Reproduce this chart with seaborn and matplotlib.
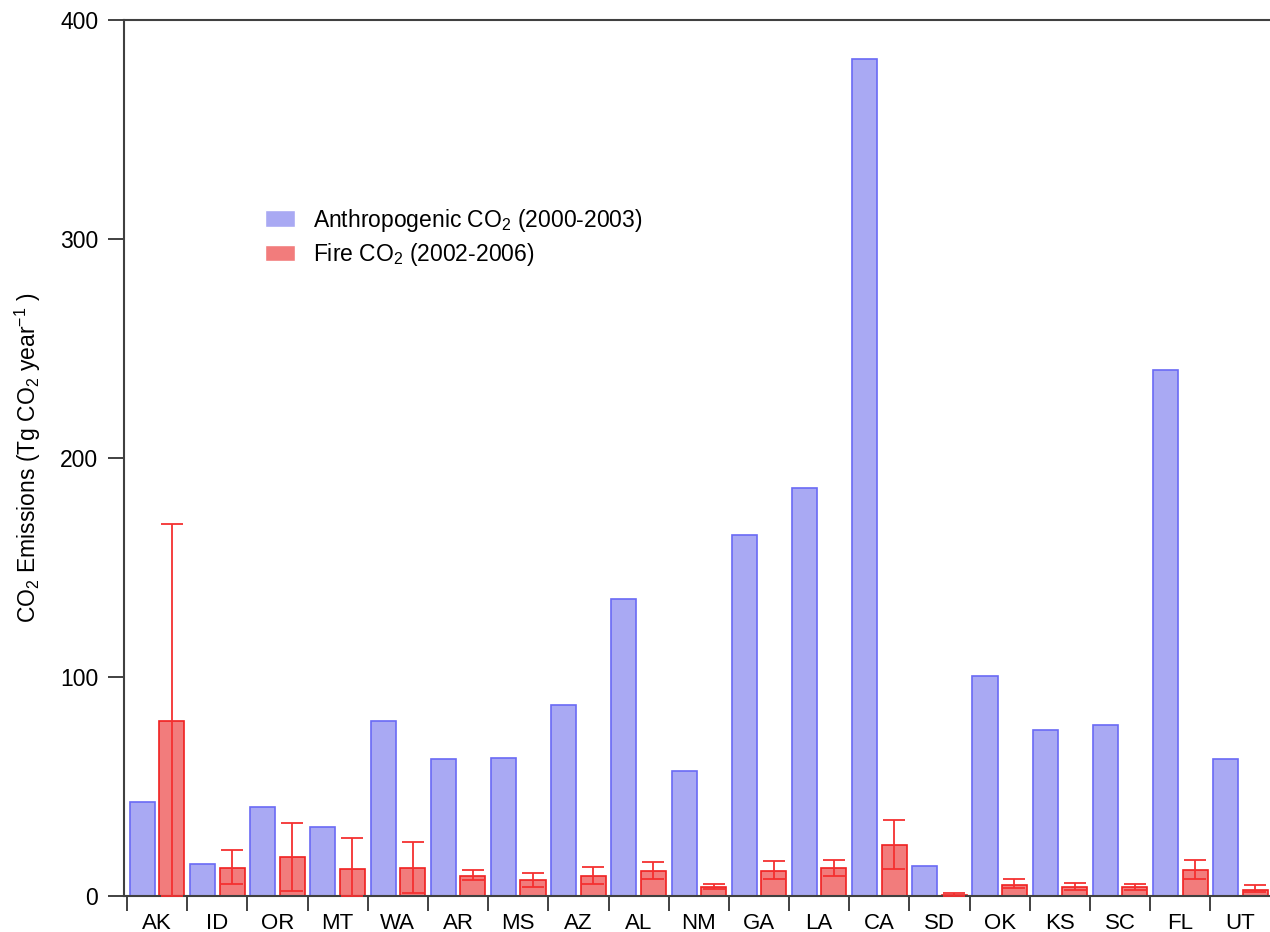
import matplotlib
matplotlib.use('Agg')

import matplotlib.pyplot as plt
import seaborn as sns
import pandas as pd
import numpy as np


states = ["AK", "ID", "OR", "MT", "WA", "AR", "MS", "AZ", "AL", "NM",
          "GA", "LA", "CA", "SD", "OK", "KS", "SC", "FL", "UT"]

anthro = [43, 14.6, 40.6, 31.5, 80, 62.6, 62.8, 87.4, 135.6, 57,
          165, 186.3, 382, 13.7, 100.5, 76, 78, 240, 62.6]

fire = [80, 13, 17.8, 12.3, 12.8, 9.3, 7.3, 9.3, 11.4, 4,
        11.4, 12.8, 23.3, 0.5, 5, 4.1, 4.2, 11.9, 2.7]

fire_low = [0, 5.5, 2.3, 0, 1.4, 7.3, 4.1, 5.5, 7.8, 3,
            7.8, 9.1, 12.3, 0, 3.6, 2.7, 2.7, 7.8, 1.8]

fire_high = [170, 21, 33.3, 26.5, 24.7, 11.9, 10.5, 13.2, 15.5, 5.5,
             16, 16.4, 34.7, 1.4, 7.8, 6, 5.5, 16.4, 5]

series = ["Anthropogenic CO$_2$ (2000-2003)", "Fire CO$_2$ (2002-2006)"]

df = pd.DataFrame({
    "state": states * 2,
    "value": anthro + fire,
    "series": [series[0]] * len(states) + [series[1]] * len(states),
})

sns.set_style("ticks")
plt.rcParams['font.family'] = ['Liberation Sans', 'DejaVu Sans']
plt.rcParams['mathtext.fontset'] = 'custom'
plt.rcParams['mathtext.rm'] = 'Liberation Sans'
plt.rcParams['mathtext.it'] = 'Liberation Sans'
plt.rcParams['text.color'] = 'black'
plt.rcParams['axes.labelcolor'] = 'black'

fig = plt.figure(figsize=(12.7, 9.32), dpi=100)
ax = fig.add_axes([124 / 1270, 36 / 932, 1146 / 1270, 876 / 932])

sns.barplot(
    data=df,
    x="state",
    y="value",
    hue="series",
    palette=["#a9a9f3", "#f27c7c"],
    saturation=1,
    width=0.98,
    gap=0.15,
    errorbar=None,
    ax=ax
)

edge_colors = ["#6a6af5", "#f02020"]
for cont, ec in zip(ax.containers, edge_colors):
    for bar in cont:
        bar.set_edgecolor(ec)
        bar.set_linewidth(1.2)

# asymmetric error bars on the fire bars
fire_bars = ax.containers[1]
xs = [b.get_x() + b.get_width() / 2 for b in fire_bars]
yerr = np.array([
    np.array(fire) - np.array(fire_low),
    np.array(fire_high) - np.array(fire),
])
ax.errorbar(
    xs, fire,
    yerr=yerr,
    fmt="none",
    ecolor="#f53030",
    elinewidth=1.3,
    capsize=8,
    capthick=1.3,
    zorder=5,
    clip_on=False
)

ax.set_ylim(0, 400)
ax.set_xlim(-0.55, 18.49)
ax.set_yticks([0, 100, 200, 300, 400])

ax.set_xticks(np.arange(len(states)) - 0.5, minor=True)
ax.tick_params(axis="x", which="major", length=0, pad=12, labelsize=16,
               labelcolor="black")
ax.tick_params(axis="x", which="minor", length=11, width=1.3, color="#333333")
ax.tick_params(axis="y", length=11.5, width=1.3, pad=7, labelsize=16.5,
               color="#333333", labelcolor="black")

for side in ["left", "bottom", "top"]:
    ax.spines[side].set_color("#404040")
    ax.spines[side].set_linewidth(1.5)
ax.spines["right"].set_visible(False)

ax.set_xlabel("")
ax.set_ylabel("CO$_2$ Emissions (Tg CO$_2$ year$^{-1}$ )", fontsize=16.5,
              labelpad=12)

ax.legend(
    loc="upper left",
    bbox_to_anchor=(0.113, 0.80),
    frameon=False,
    fontsize=16.5,
    handlelength=1.3,
    handleheight=0.75,
    handletextpad=0.8,
    labelspacing=0.32,
    borderpad=0
)

plt.savefig("out.png", dpi=100)
plt.close()
